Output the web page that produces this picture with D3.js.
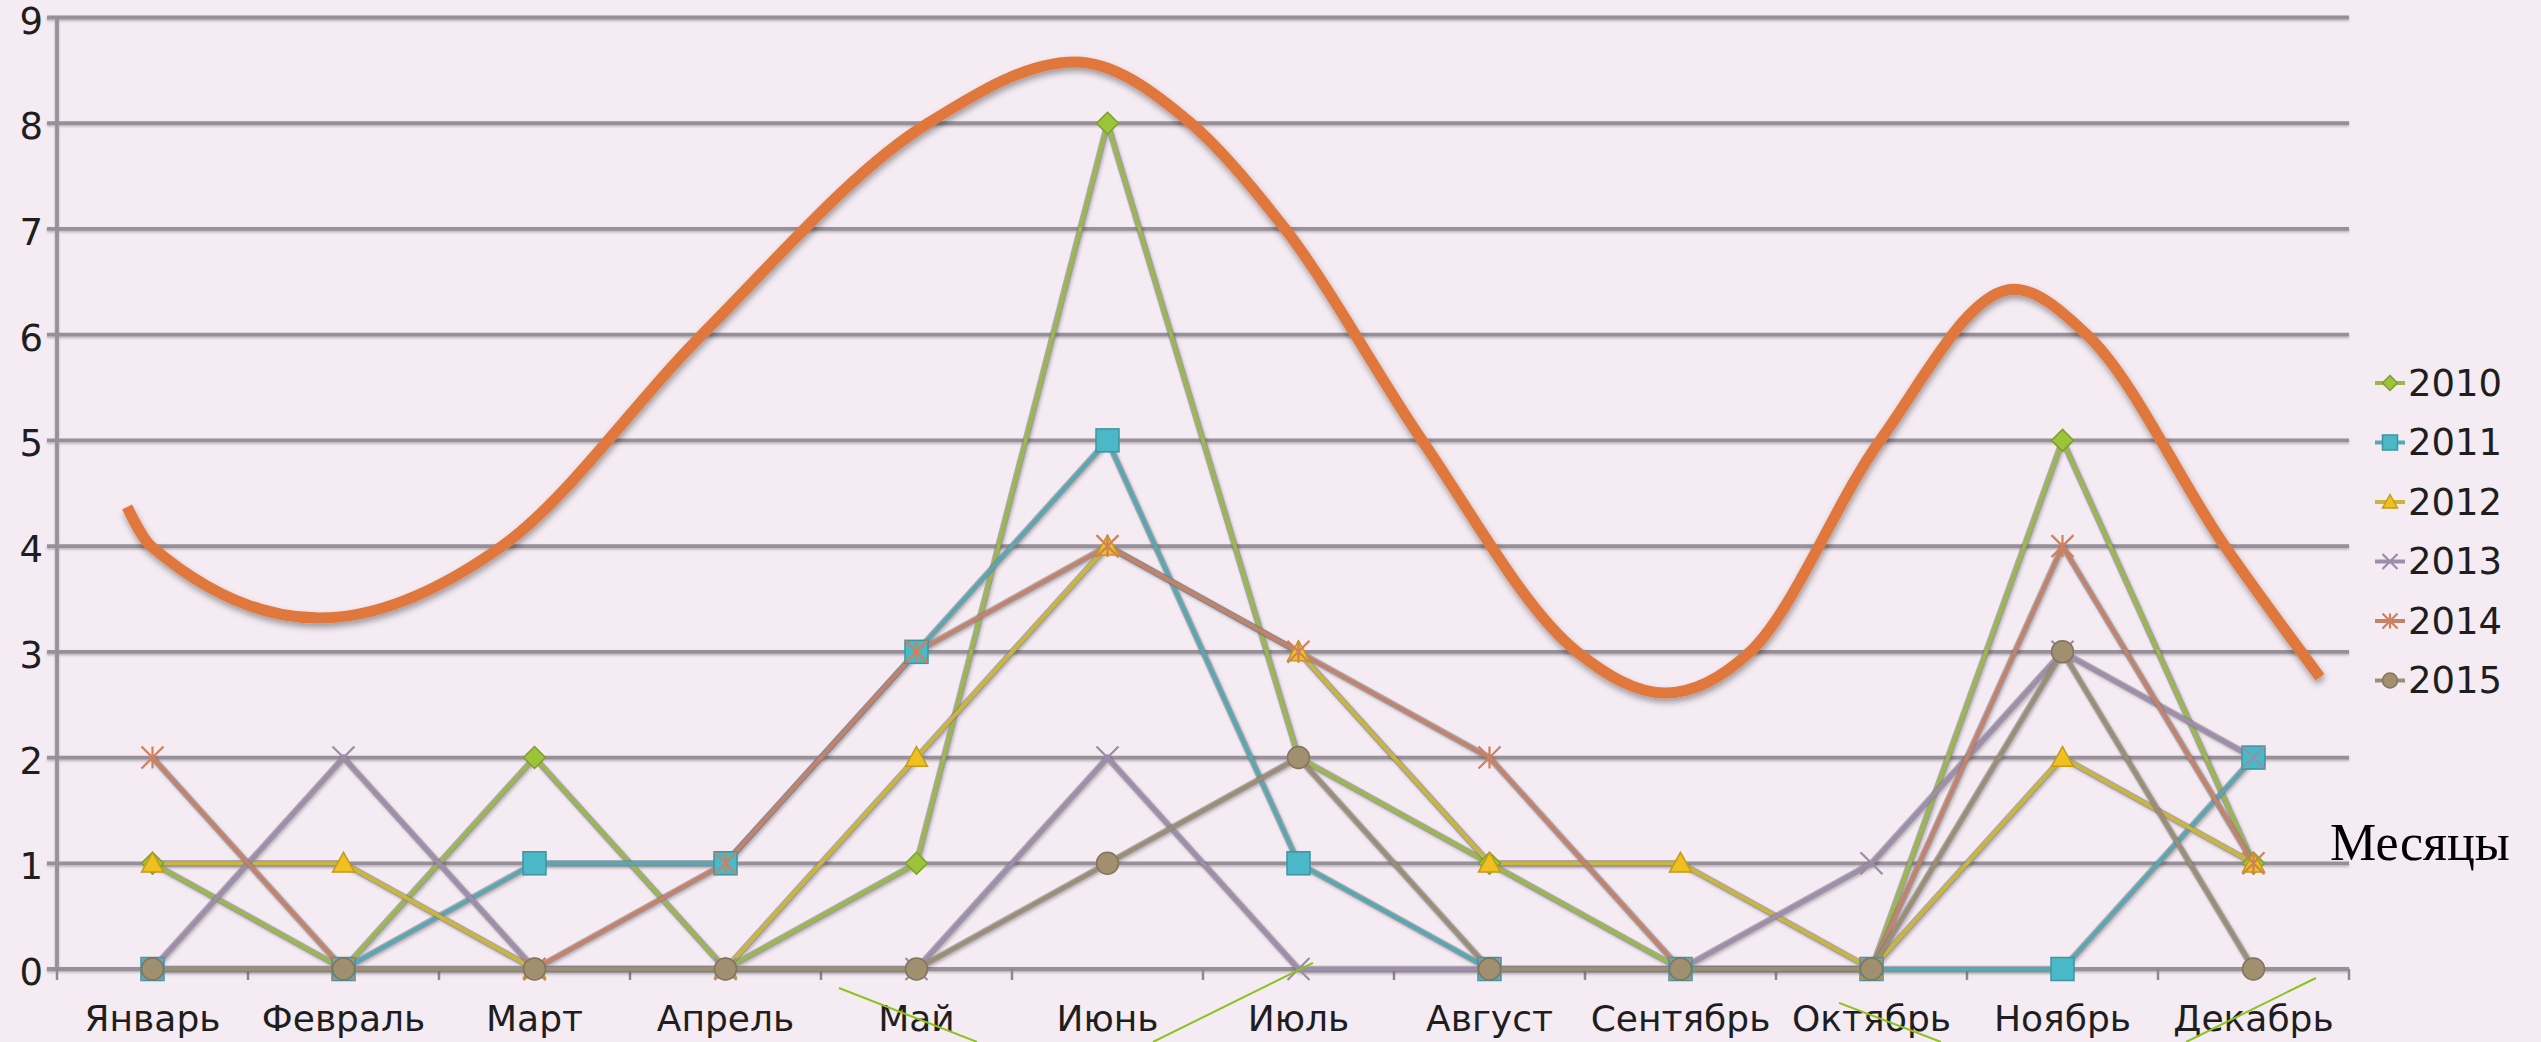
<!DOCTYPE html>
<html><head><meta charset="utf-8">
<script src="https://cdn.jsdelivr.net/npm/d3@7"></script>
<style>html,body{margin:0;padding:0;background:#f4ebf3;} svg{display:block}</style>
</head><body><svg id="chart" width="2541" height="1042"></svg>
<script>
// ---------- DATA ----------
const months = ["Январь","Февраль","Март","Апрель","Май","Июнь","Июль","Август","Сентябрь","Октябрь","Ноябрь","Декабрь"];
const yTicks = [0,1,2,3,4,5,6,7,8,9];
const seriesNames = ["2010","2011","2012","2013","2014","2015"];
const v2010 = [1,0,2,0,1,8,2,1,0,0,5,1];
const v2011 = [0,0,1,1,3,5,1,0,0,0,0,2];
const v2012 = [1,1,0,0,2,4,3,1,1,0,2,1];
const v2013 = [0,2,0,0,0,2,0,0,0,1,3,2];
const v2014 = [2,0,0,1,3,4,3,2,0,0,4,1];
const v2015 = [0,0,0,0,0,1,2,0,0,0,3,0];
const axisTitle = "Месяцы";
// hand-drawn orange trend curve, in (month index, value) units
const trendIdx = [-0.133,-0.008,0.872,1.83,2.866,4.06,4.83,5.437,5.93,6.647,7.458,7.919,8.364,9.045,9.746,10.128,10.85,11.348];
const trendVal = [4.37,4.0,3.32,4.0,5.98,8.0,8.58,8.0,7.0,5.0,3.0,2.61,3.0,5.0,6.43,6.0,4.0,2.76];
// thin green decorative strokes below the axis, in (month index, value) units
const decoIdx0 = [3.594,5.238,8.83,10.647];
const decoVal0 = [-0.18,-0.69,-0.32,-0.69];
const decoIdx1 = [4.317,6.076,9.364,11.327];
const decoVal1 = [-0.69,0.057,-0.69,-0.085];

// ---------- STYLE ----------
const seriesValues = [v2010,v2011,v2012,v2013,v2014,v2015];
const lineColors   = ["#9ab84e","#58a8b4","#cbb63c","#9e8eac","#c4826a","#9c8e72"];
const markColors   = ["#9cc43a","#4bb8c8","#f0c020","#9c8caa","#d0805c","#a09070"];
const markTypes    = ["diamond","square","triangle","x","star","circle"];

const W=2541,H=1042, L=57, R=2349, T=17.5, B=969;
const svg = d3.select("#chart");
svg.append("rect").attr("width",W).attr("height",H).attr("fill","#f4ebf3");

const defs = svg.append("defs");
defs.append("filter").attr("id","shGrid").attr("x","-5%").attr("y","-200%").attr("width","110%").attr("height","500%")
  .append("feDropShadow").attr("dx",0).attr("dy",1.5).attr("stdDeviation",1.2).attr("flood-color","#000").attr("flood-opacity",0.25);
defs.append("filter").attr("id","shLine").attr("x","-10%").attr("y","-10%").attr("width","120%").attr("height","120%")
  .append("feDropShadow").attr("dx",1.5).attr("dy",2).attr("stdDeviation",1.5).attr("flood-color","#000").attr("flood-opacity",0.25);
defs.append("filter").attr("id","shTrend").attr("x","-10%").attr("y","-10%").attr("width","120%").attr("height","130%")
  .append("feDropShadow").attr("dx",1).attr("dy",4).attr("stdDeviation",3).attr("flood-color","#000").attr("flood-opacity",0.35);

const x = d3.scaleBand().domain(months).range([L,R]).padding(0);
const xi = d3.scaleLinear().domain([-0.5, months.length-0.5]).range([L,R]);
const y = d3.scaleLinear().domain([0,9]).range([B,T]);
const cx = m => x(m)+x.bandwidth()/2;

// gridlines
const grid = svg.append("g").attr("filter","url(#shGrid)");
grid.selectAll("line.g").data(yTicks).join("line")
  .attr("x1",L-10).attr("x2",R).attr("y1",d=>y(d)).attr("y2",d=>y(d))
  .attr("stroke","#979099").attr("stroke-width",3.8);
grid.append("line").attr("x1",L).attr("x2",L).attr("y1",T).attr("y2",B+1)
  .attr("stroke","#979099").attr("stroke-width",3.8);

// x axis
const xAxis = svg.append("g").attr("transform",`translate(0,${B})`)
  .call(d3.axisBottom(x).tickSize(0).tickPadding(0));
xAxis.select(".domain").remove();
xAxis.selectAll("text").attr("font-family","DejaVu Sans").attr("font-size",36).attr("fill","#1e1e1e")
  .attr("dy",null).attr("y",62);
// x boundary ticks
const bounds = d3.range(months.length+1);
svg.append("g").selectAll("line").data(bounds).join("line")
  .attr("x1",d=>xi(d-0.5)).attr("x2",d=>xi(d-0.5)).attr("y1",B).attr("y2",B+11)
  .attr("stroke","#8e8892").attr("stroke-width",2.5);

// y axis labels
const yAxis = svg.append("g").attr("transform",`translate(${L},0)`)
  .call(d3.axisLeft(y).tickValues(yTicks).tickFormat(d3.format("d")).tickSize(0).tickPadding(14));
yAxis.select(".domain").remove();
yAxis.selectAll("text").attr("font-family","DejaVu Sans").attr("font-size",37).attr("fill","#1e1e1e").attr("dy","0.42em");

// series lines
const lineGen = d3.line().x((d,i)=>cx(months[i])).y(d=>y(d));
const lines = svg.append("g").attr("filter","url(#shLine)");
seriesValues.forEach((vals,s)=>{
  lines.append("path").attr("d",lineGen(vals)).attr("fill","none")
    .attr("stroke","#7c7680").attr("stroke-opacity",0.55).attr("stroke-width",6.5).attr("stroke-linejoin","round");
  lines.append("path").attr("d",lineGen(vals)).attr("fill","none")
    .attr("stroke",lineColors[s]).attr("stroke-width",3.8).attr("stroke-linejoin","round");
});

// markers
function marker(g, type, color, size){
  const r=size/2;
  if(type==="diamond"){
    g.append("path").attr("d",`M0,${-r}L${r},0L0,${r}L${-r},0Z`).attr("fill",color).attr("stroke",d3.color(color).darker(0.6)).attr("stroke-width",1.5);
  } else if(type==="square"){
    g.append("rect").attr("x",-r).attr("y",-r).attr("width",size).attr("height",size).attr("fill",color).attr("stroke",d3.color(color).darker(0.6)).attr("stroke-width",1.5);
  } else if(type==="triangle"){
    g.append("path").attr("d",`M0,${-r}L${r},${r*0.8}L${-r},${r*0.8}Z`).attr("fill",color).attr("stroke",d3.color(color).darker(0.6)).attr("stroke-width",1.5);
  } else if(type==="x"){
    g.append("path").attr("d",`M${-r},${-r}L${r},${r}M${-r},${r}L${r},${-r}`).attr("stroke",color).attr("stroke-width",2.2).attr("fill","none");
  } else if(type==="star"){
    g.append("path").attr("d",`M${-r},${-r}L${r},${r}M${-r},${r}L${r},${-r}M0,${-r}L0,${r}`).attr("stroke",color).attr("stroke-width",2.2).attr("fill","none");
  } else {
    g.append("circle").attr("r",r).attr("fill",color).attr("stroke",d3.color(color).darker(0.6)).attr("stroke-width",1.5);
  }
}
const marks = svg.append("g");
seriesValues.forEach((vals,s)=>{
  vals.forEach((v,i)=>{
    const g = marks.append("g").attr("transform",`translate(${cx(months[i])},${y(v)})`);
    marker(g, markTypes[s], markColors[s], markTypes[s]==="square"?23:22);
  });
});

// orange trend curve
const trendPts = trendIdx.map((t,i)=>[xi(t), y(trendVal[i])]);
svg.append("path").attr("d", d3.line().curve(d3.curveMonotoneX)(trendPts))
  .attr("fill","none").attr("stroke","#e0783c").attr("stroke-width",11)
  .attr("stroke-linecap","butt").attr("filter","url(#shTrend)");

// decorative thin green strokes
svg.append("g").selectAll("line").data(decoIdx0.map((d,i)=>i)).join("line")
  .attr("x1",i=>xi(decoIdx0[i])).attr("y1",i=>y(decoVal0[i]))
  .attr("x2",i=>xi(decoIdx1[i])).attr("y2",i=>y(decoVal1[i]))
  .attr("stroke","#8cc21e").attr("stroke-width",2);

// legend
const leg = svg.append("g");
seriesNames.forEach((nm,s)=>{
  const ly = 383 + s*59.5;
  const g = leg.append("g").attr("transform",`translate(2390,${ly})`);
  g.append("line").attr("x1",-15).attr("x2",15).attr("y1",0).attr("y2",0).attr("stroke",lineColors[s]).attr("stroke-width",4);
  marker(g, markTypes[s], markColors[s], 15);
  leg.append("text").attr("x",2408).attr("y",ly).attr("dominant-baseline","central")
    .attr("font-family","DejaVu Sans").attr("font-size",37).attr("fill","#1e1e1e").text(nm);
});

// axis title
svg.append("text").attr("x",2330).attr("y",860).attr("font-family","Liberation Serif")
  .attr("font-size",52).attr("fill","#000").text(axisTitle);
</script>
</body></html>
